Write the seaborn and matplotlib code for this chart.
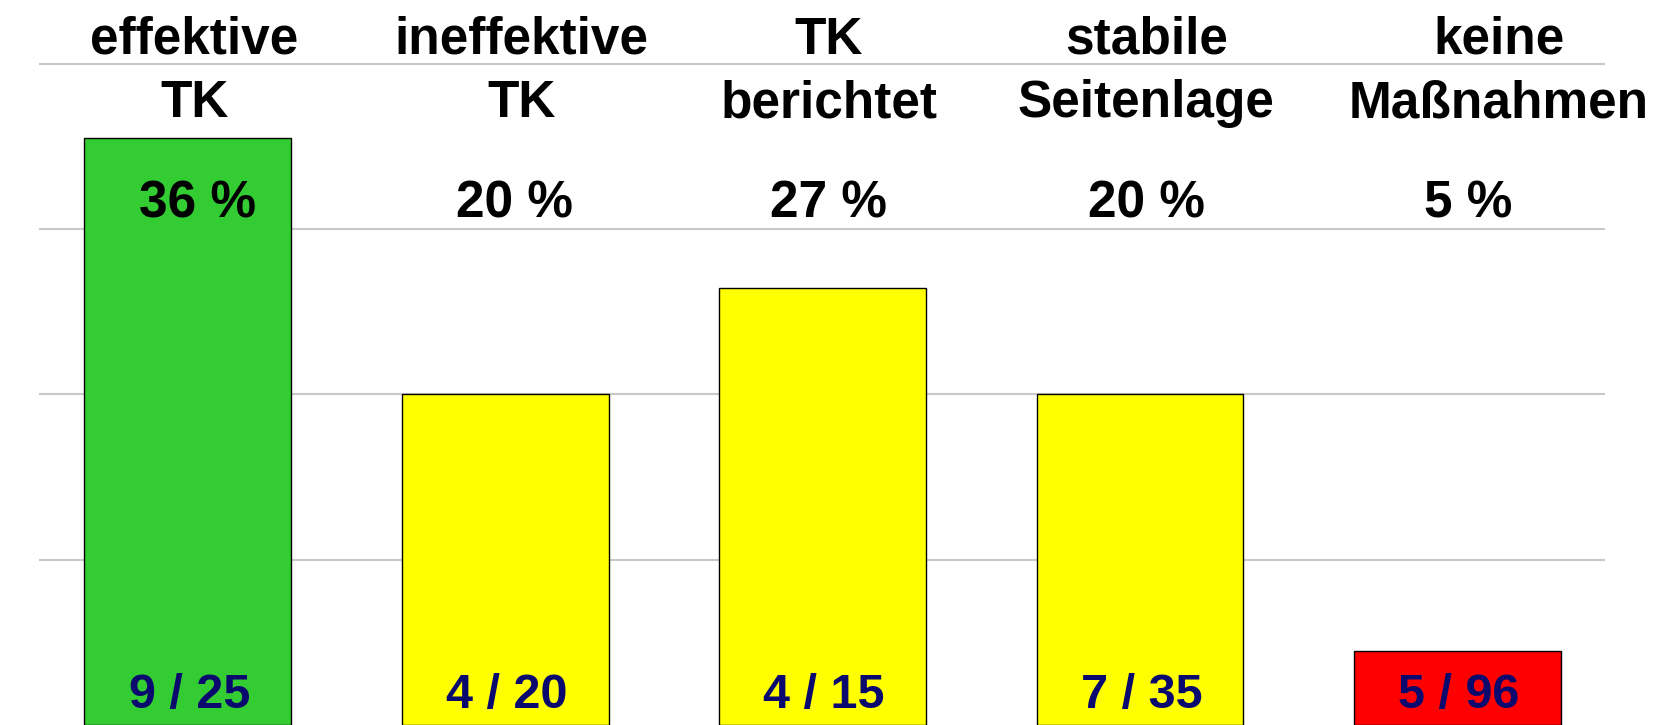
import matplotlib
matplotlib.use("Agg")
import matplotlib.pyplot as plt
import seaborn as sns
import pandas as pd

# data
categories = ["effektive\nTK", "ineffektive\nTK", "TK\nberichtet", "stabile\nSeitenlage", "keine\nMaßnahmen"]
bar_heights = [35.5, 20.0, 26.4, 20.0, 4.5]
pct_labels = ["36 %", "20 %", "27 %", "20 %", "5 %"]
count_labels = ["9 / 25", "4 / 20", "4 / 15", "7 / 35", "5 / 96"]
bar_colors = ["#33CC33", "#FFFF00", "#FFFF00", "#FFFF00", "#FF0000"]

df = pd.DataFrame({"cat": categories, "val": bar_heights})

sns.set_theme(style="white")
plt.rcParams["font.family"] = ["Liberation Sans", "DejaVu Sans"]

fig = plt.figure(figsize=(16.69, 7.25), dpi=100)
ax = fig.add_axes([0.0234, 0.0, 0.938, 1.0])

sns.barplot(data=df, x="cat", y="val", hue="cat", palette=bar_colors,
            legend=False, width=0.652, saturation=1,
            edgecolor="black", linewidth=1.0, ax=ax, zorder=3)

ax.set_xlim(-0.469, 4.464)
ax.set_ylim(0, 43.84)
ax.set_yticks([10, 20, 30, 40])
ax.yaxis.grid(True, color="#C8C8C8", linewidth=1.5, zorder=0)
ax.set_axisbelow(True)
ax.tick_params(left=False, bottom=False, labelleft=False, labelbottom=False)
ax.set_xlabel("")
ax.set_ylabel("")
for s in ax.spines.values():
    s.set_visible(False)

# small horizontal nudges so the text sits like in the original
cat_shift = [0.02, 0.05, 0.02, 0.02, 0.13]
pct_shift = [0.03, 0.03, 0.02, 0.02, 0.035]

for i, cat in enumerate(categories):
    line1, line2 = cat.split("\n")
    ax.text(i + cat_shift[i], 40.6, line1, ha="center", va="baseline",
            fontsize=37, fontweight="bold", color="black", clip_on=False, zorder=5)
    ax.text(i + cat_shift[i], 36.75, line2, ha="center", va="baseline",
            fontsize=37, fontweight="bold", color="black", clip_on=False, zorder=5)
    ax.text(i + pct_shift[i], 30.7, pct_labels[i], ha="center", va="baseline",
            fontsize=37, fontweight="bold", color="black", zorder=5)
    ax.text(i + 0.005, 1.05, count_labels[i], ha="center", va="baseline",
            fontsize=35, fontweight="bold", color="#0A0A6E", zorder=5)

fig.savefig("out.png", dpi=100)
